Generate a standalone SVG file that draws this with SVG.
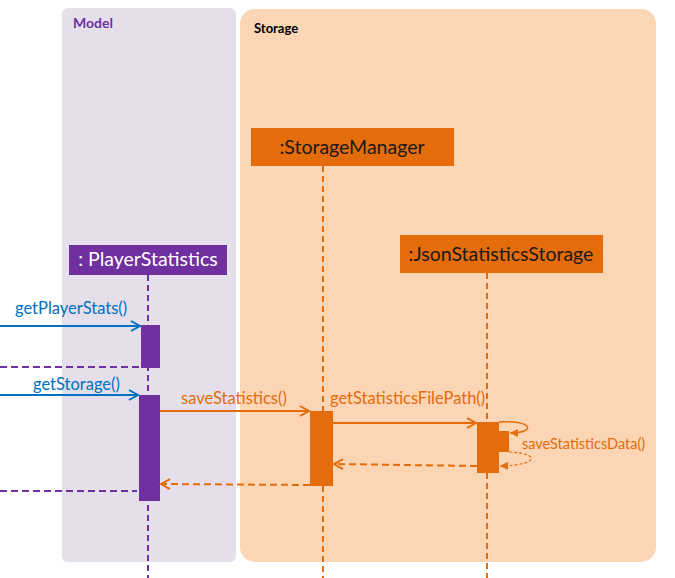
<svg xmlns="http://www.w3.org/2000/svg" width="675" height="578" viewBox="0 0 675 578">
<style>
text{font-family:Lato,"Open Sans","Liberation Sans",sans-serif}
.lbl{font-size:16.5px}
.blue{fill:#0070C0}
.org{fill:#E46C0A}
.sol{fill:none;stroke-width:2}
.dash{fill:none;stroke-width:2;stroke-dasharray:7,4}
.life{fill:none;stroke-width:2;stroke-dasharray:6,4}
</style>
<defs>
<marker id="ab" markerWidth="12" markerHeight="12" refX="10" refY="6" orient="auto" markerUnits="userSpaceOnUse">
<path d="M1,1 L10,6 L1,11" fill="none" stroke="#0070C0" stroke-width="2"/>
</marker>
<marker id="ao" markerWidth="12" markerHeight="12" refX="10" refY="6" orient="auto" markerUnits="userSpaceOnUse">
<path d="M1,1 L10,6 L1,11" fill="none" stroke="#E46C0A" stroke-width="2"/>
</marker>
<marker id="as" markerWidth="10" markerHeight="10" refX="8" refY="5" orient="auto" markerUnits="userSpaceOnUse">
<path d="M0,1 L8,5 L0,9 Z" fill="#E46C0A"/>
</marker>
</defs>
<g id="model-panel">
<rect x="62" y="8" width="174" height="554" rx="6" fill="#E5DFEC"/>
<text x="73" y="28" font-size="14" font-weight="bold" fill="#7030A0">Model</text>
</g>
<g id="storage-panel">
<rect x="240" y="9" width="416" height="553" rx="15" fill="#FCD5B5"/>
<text x="254" y="33" font-size="13" font-weight="bold" fill="#000">Storage</text>
</g>
<g id="lifelines">
<line x1="148" y1="275" x2="148" y2="578" class="life" stroke="#7030A0"/>
<line x1="323" y1="166" x2="323" y2="578" class="life" stroke="#E46C0A"/>
<line x1="487" y1="273" x2="487" y2="578" class="life" stroke="#E46C0A"/>
</g>
<g id="player-statistics">
<rect x="69" y="245" width="158" height="30" fill="#7030A0"/>
<text x="148" y="266" font-size="19.5" fill="#fff" text-anchor="middle">: PlayerStatistics</text>
</g>
<g id="storage-manager">
<rect x="251" y="128" width="203" height="38" fill="#E46C0A"/>
<text x="352" y="154" font-size="19.5" fill="#1a1a1a" text-anchor="middle">:StorageManager</text>
</g>
<g id="json-statistics-storage">
<rect x="400" y="235" width="203" height="38" fill="#E46C0A"/>
<text x="501" y="261" font-size="19.5" fill="#1a1a1a" text-anchor="middle">:JsonStatisticsStorage</text>
</g>
<g id="activations">
<rect x="141" y="325" width="19" height="43" fill="#7030A0"/>
<rect x="139" y="395" width="21" height="106" fill="#7030A0"/>
<rect x="310" y="411" width="23" height="75" fill="#E46C0A"/>
<rect x="477" y="422" width="22" height="51" fill="#E46C0A"/>
<rect x="499" y="431" width="10" height="21" fill="#E46C0A"/>
</g>
<g id="connectors">
<line x1="0" y1="326" x2="140" y2="326" class="sol" stroke="#0070C0" marker-end="url(#ab)"/>
<text x="15" y="314" class="lbl blue">getPlayerStats()</text>
<line x1="0" y1="367" x2="141" y2="367" class="dash" stroke="#7030A0"/>
<line x1="0" y1="395" x2="138" y2="395" class="sol" stroke="#0070C0" marker-end="url(#ab)"/>
<text x="33" y="390" class="lbl blue">getStorage()</text>
<line x1="160" y1="411" x2="309" y2="411" class="sol" stroke="#E46C0A" marker-end="url(#ao)"/>
<text x="181" y="404" class="lbl org">saveStatistics()</text>
<line x1="333" y1="423" x2="476" y2="423" class="sol" stroke="#E46C0A" marker-end="url(#ao)"/>
<text x="330" y="404" class="lbl org">getStatisticsFilePath()</text>
<path d="M499,422 C535,420 535,433 510,433" fill="none" stroke="#E46C0A" stroke-width="1.5" marker-end="url(#as)"/>
<text x="522" y="449" font-size="14.5" class="org">saveStatisticsData()</text>
<path d="M509,452 C540,453 540,465 500,466" fill="none" stroke="#E46C0A" stroke-width="1.2" stroke-dasharray="3,2" marker-end="url(#as)"/>
<line x1="477" y1="466" x2="334" y2="464" class="dash" stroke="#E46C0A" marker-end="url(#ao)"/>
<line x1="310" y1="485" x2="161" y2="484" class="dash" stroke="#E46C0A" marker-end="url(#ao)"/>
<line x1="0" y1="491" x2="137" y2="491" class="dash" stroke="#7030A0"/>
</g>
</svg>
